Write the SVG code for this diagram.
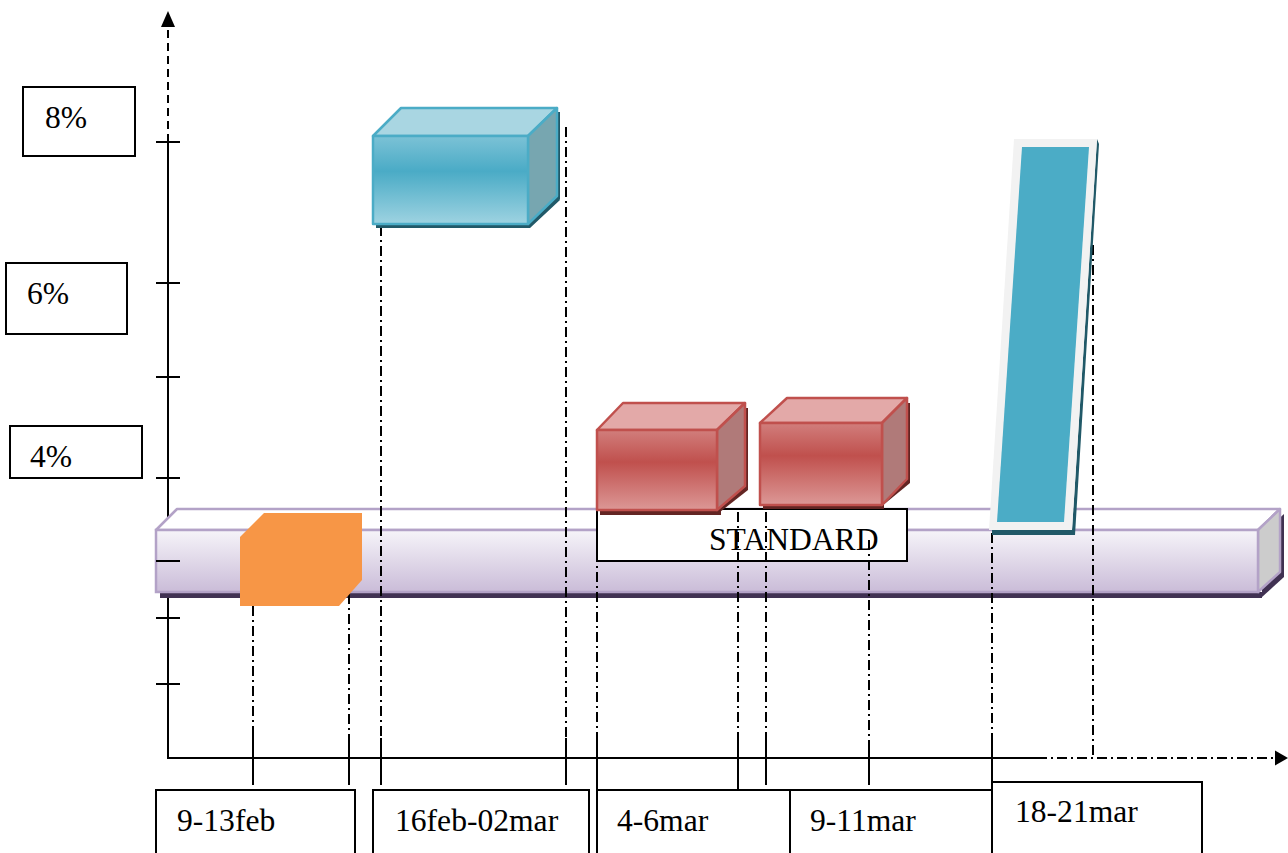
<svg xmlns="http://www.w3.org/2000/svg" width="1288" height="853" viewBox="0 0 1288 853">
<style>
.lbl{fill:#fff;stroke:#000;stroke-width:2}
.t{font-family:"Liberation Serif","Times New Roman",serif;font-size:31.6px;fill:#000}
.ax{stroke:#000;stroke-width:2;fill:none}
.guide{stroke:#000;stroke-width:2;fill:none;stroke-dasharray:10 4 2 4}
.sol{stroke:#000;stroke-width:2;fill:none}
.red{stroke:#c0504d;stroke-width:2.5;stroke-linejoin:round}
.blue{stroke:#4bacc6;stroke-width:2.5;stroke-linejoin:round}
</style>
<defs>
<linearGradient id="gBar" x1="0" y1="0" x2="0" y2="1">
<stop offset="0" stop-color="#f6f4f9"/>
<stop offset="1" stop-color="#cabcd8"/>
</linearGradient>
<linearGradient id="gBlue" x1="0" y1="0" x2="0" y2="1">
<stop offset="0" stop-color="#7cc2d6"/>
<stop offset="0.4" stop-color="#4aabc6"/>
<stop offset="1" stop-color="#9ed3e1"/>
</linearGradient>
<linearGradient id="gRed" x1="0" y1="0" x2="0" y2="1">
<stop offset="0" stop-color="#d17e7c"/>
<stop offset="0.4" stop-color="#c0504d"/>
<stop offset="1" stop-color="#dc9896"/>
</linearGradient>
</defs>

<g id="connectors">
<line class="ax" x1="168" y1="758" x2="168" y2="142"/>
<line x1="168" y1="142" x2="168" y2="26" stroke="#000" stroke-width="2" stroke-dasharray="8 5"/>
<path d="M168,11 L175,27 L161,27 Z" fill="#000"/>
<g class="sol">
<line x1="156" y1="142" x2="180" y2="142"/>
<line x1="156" y1="283" x2="180" y2="283"/>
<line x1="156" y1="377" x2="180" y2="377"/>
<line x1="156" y1="478" x2="180" y2="478"/>
<line x1="156" y1="618" x2="180" y2="618"/>
<line x1="156" y1="684" x2="180" y2="684"/>
</g>
<line class="ax" x1="167" y1="758" x2="1037" y2="758"/>
<line x1="1037" y1="758" x2="1276" y2="758" stroke="#000" stroke-width="2" stroke-dasharray="10 4 2 4"/>
<path d="M1288,758 L1275,750.5 L1275,765.5 Z" fill="#000"/>
</g>

<g id="standard-bar">
<rect x="160" y="592" width="1102" height="6" fill="#403152"/>
<path d="M1262,597 L1284,577 L1284,514 L1262,534 Z" fill="#403152"/>
<path d="M156,530 L177,509 L1280,509 L1258,530 Z" fill="#ffffff" stroke="#b3a2c7" stroke-width="2.5" stroke-linejoin="round"/>
<path d="M1258,530 L1280,509 L1280,572 L1258,592 Z" fill="#cccccc" stroke="#b3a2c7" stroke-width="2.5" stroke-linejoin="round"/>
<rect x="156" y="530" width="1102" height="62" fill="url(#gBar)" stroke="#b3a2c7" stroke-width="2.5"/>
<line x1="156" y1="561" x2="180" y2="561" stroke="#000" stroke-width="2"/>
</g>

<g id="standard-label">
<rect class="lbl" x="597" y="509" width="310" height="52"/>
<text class="t" x="709" y="550">STANDARD</text>
</g>

<g id="guides">
<line class="guide" x1="253" y1="606" x2="253" y2="758"/>
<line class="guide" x1="349" y1="594" x2="349" y2="758"/>
<line class="guide" x1="381" y1="226" x2="381" y2="758"/>
<line class="guide" x1="566" y1="127" x2="566" y2="758"/>
<line class="guide" x1="597" y1="512" x2="597" y2="758"/>
<line class="guide" x1="738" y1="512" x2="738" y2="758"/>
<line class="guide" x1="766" y1="512" x2="766" y2="758"/>
<line class="guide" x1="869" y1="540" x2="869" y2="758"/>
<line class="guide" x1="992" y1="533" x2="992" y2="758"/>
<line class="guide" x1="1093" y1="245" x2="1093" y2="758"/>
<g class="sol">
<line x1="253" y1="735" x2="253" y2="785"/>
<line x1="349" y1="738" x2="349" y2="785"/>
<line x1="381" y1="738" x2="381" y2="785"/>
<line x1="566" y1="738" x2="566" y2="785"/>
<line x1="597" y1="740" x2="597" y2="790"/>
<line x1="738" y1="740" x2="738" y2="790"/>
<line x1="766" y1="740" x2="766" y2="785"/>
<line x1="869" y1="740" x2="869" y2="785"/>
<line x1="992" y1="735" x2="992" y2="782"/>
</g>
</g>

<g id="orange">
<path d="M240,537 L264,513 L362,513 L362,580 L339,606 L240,606 Z" fill="#f79646"/>
</g>

<g id="blue-box">
<path d="M530,228 L376,228 L376,222 L528,222 L557,196 L560,200 Z" fill="#215968"/>
<path d="M528,226 L560,199 L560,112 L556,112 L528,224 Z" fill="#215968"/>
<path d="M373,136 L401,108 L557,108 L528,136 Z" fill="#a9d6e2" class="blue"/>
<path d="M528,136 L557,108 L557,196 L528,224 Z" fill="#77a6b0" class="blue"/>
<rect x="373" y="136" width="155" height="88" fill="url(#gBlue)" class="blue"/>
</g>

<g id="red-box-1">
<path d="M720,512 L748,490 L748,408 L744,408 L717,510 Z" fill="#632523"/>
<rect x="600" y="509" width="121" height="6" fill="#632523"/>
<path d="M597,430 L623,403 L745,403 L717,430 Z" fill="#e3a9a8" class="red"/>
<path d="M717,430 L745,403 L745,486 L717,510 Z" fill="#b07a79" class="red"/>
<rect x="597" y="430" width="120" height="80" fill="url(#gRed)" class="red"/>
</g>

<g id="red-box-2">
<path d="M882,506 L910,483 L910,403 L905,403 L880,505 Z" fill="#632523"/>
<rect x="763" y="504" width="121" height="5" fill="#632523"/>
<path d="M760,423 L787,398 L907,398 L882,423 Z" fill="#e3a9a8" class="red"/>
<path d="M882,423 L907,398 L907,479 L882,505 Z" fill="#b07a79" class="red"/>
<rect x="760" y="423" width="122" height="82" fill="url(#gRed)" class="red"/>
</g>

<g id="tall-bar">
<path d="M1097,139 L1099,144 L1075,535 L992,535 L992,530 L1072,530 Z" fill="#215968"/>
<path d="M1014,139 L1097,139 L1072,530 L989,530 Z" fill="#f2f2f2"/>
<path d="M1022,147 L1089,147 L1064,522 L997,522 Z" fill="#4bacc6"/>
</g>

<g id="y-labels">
<g id="label-8"><rect class="lbl" x="23" y="87" width="112" height="69"/><text class="t" x="45" y="128">8%</text></g>
<g id="label-6"><rect class="lbl" x="6" y="263" width="121" height="71"/><text class="t" x="27" y="304">6%</text></g>
<g id="label-4"><rect class="lbl" x="10" y="426" width="132" height="52"/><text class="t" x="30" y="467">4%</text></g>
</g>

<g id="x-labels">
<g id="label-feb1"><rect class="lbl" x="156" y="790" width="199" height="80"/><text class="t" x="177" y="831">9-13feb</text></g>
<g id="label-feb2"><rect class="lbl" x="373" y="790" width="216" height="80"/><text class="t" x="395" y="831">16feb-02mar</text></g>
<g id="label-mar1"><rect class="lbl" x="597" y="790" width="193" height="80"/><text class="t" x="617" y="831">4-6mar</text></g>
<g id="label-mar2"><rect class="lbl" x="790" y="790" width="202" height="80"/><text class="t" x="810" y="831">9-11mar</text></g>
<g id="label-mar3"><rect class="lbl" x="992" y="782" width="210" height="90"/><text class="t" x="1015" y="822">18-21mar</text></g>
</g>
</svg>
